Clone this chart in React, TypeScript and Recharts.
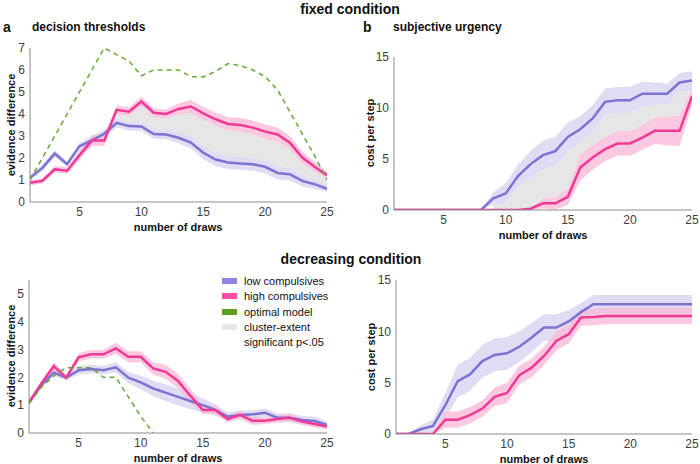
import React from "react";
import { ComposedChart, Area, Line, XAxis, YAxis } from "recharts";

/* ── data ─────────────────────────────────────────────────────────── */

const DRAWS = [1, 2, 3, 4, 5, 6, 7, 8, 9, 10, 11, 12, 13, 14, 15, 16, 17, 18, 19, 20, 21, 22, 23, 24, 25];
const X_TICKS = [5, 10, 15, 20, 25];

// fixed condition – decision thresholds
const FIX_THR_LOW = [1.1, 1.55, 2.2, 1.72, 2.54, 2.8, 3.1, 3.6, 3.45, 3.43, 3.09, 3.07, 2.92, 2.7, 2.24, 1.93, 1.8, 1.75, 1.72, 1.6, 1.32, 1.26, 0.96, 0.81, 0.6];
const FIX_THR_LOW_SE = [0.12, 0.15, 0.15, 0.12, 0.15, 0.18, 0.2, 0.2, 0.2, 0.2, 0.22, 0.22, 0.25, 0.28, 0.3, 0.3, 0.3, 0.3, 0.3, 0.3, 0.3, 0.28, 0.25, 0.22, 0.15];
const FIX_THR_HIGH = [0.87, 0.96, 1.49, 1.42, 2.13, 2.79, 2.79, 4.19, 4.1, 4.57, 4.06, 4.0, 4.23, 4.34, 4.03, 3.76, 3.55, 3.5, 3.38, 3.2, 3.07, 2.7, 2.02, 1.6, 1.22];
const FIX_THR_HIGH_SE = [0.12, 0.12, 0.15, 0.15, 0.2, 0.25, 0.25, 0.2, 0.2, 0.22, 0.2, 0.2, 0.25, 0.3, 0.3, 0.3, 0.3, 0.32, 0.32, 0.32, 0.32, 0.3, 0.28, 0.22, 0.18];
const FIX_THR_OPT = [1.0, 2.0, 3.0, 4.0, 5.0, 6.0, 7.0, 6.7, 6.4, 5.74, 6.0, 6.0, 6.0, 5.7, 5.68, 5.94, 6.29, 6.2, 6.0, 5.7, 5.1, 4.1, 3.1, 2.1, 1.0];
const FIX_THR_SIG: [number, number] = [8, 25];

// fixed condition – subjective urgency
const FIX_URG_LOW = [0, 0, 0, 0, 0, 0, 0, 0, 1.14, 1.63, 3.36, 4.5, 5.38, 5.77, 7.17, 7.92, 8.97, 10.6, 10.76, 10.76, 11.4, 11.4, 11.4, 12.5, 12.7];
const FIX_URG_LOW_SE = [0, 0, 0, 0, 0, 0, 0, 0, 0.6, 1.0, 1.1, 1.3, 1.4, 1.4, 1.4, 1.3, 1.3, 1.3, 1.3, 1.3, 1.2, 1.1, 1.0, 0.9, 0.9];
const FIX_URG_HIGH = [0, 0, 0, 0, 0, 0, 0, 0, 0, 0, 0, 0.13, 0.65, 0.65, 1.3, 4.17, 5.15, 5.97, 6.52, 6.52, 7.1, 7.76, 7.76, 7.76, 11.15];
const FIX_URG_HIGH_SE = [0, 0, 0, 0, 0, 0, 0, 0, 0, 0, 0, 0.1, 0.5, 0.6, 0.8, 1.3, 1.2, 1.2, 1.2, 1.2, 1.2, 1.3, 1.4, 1.5, 0.8];
const FIX_URG_SIG: [number, number] = [9, 25];

// decreasing condition – decision thresholds
const DEC_THR_LOW = [1.1, 1.72, 2.17, 1.99, 2.26, 2.3, 2.26, 2.36, 1.99, 1.82, 1.6, 1.45, 1.3, 1.15, 1.0, 0.83, 0.59, 0.65, 0.67, 0.73, 0.55, 0.55, 0.47, 0.43, 0.29];
const DEC_THR_LOW_SE = [0.05, 0.08, 0.12, 0.1, 0.15, 0.15, 0.15, 0.18, 0.2, 0.25, 0.28, 0.3, 0.3, 0.3, 0.25, 0.2, 0.15, 0.15, 0.15, 0.15, 0.15, 0.15, 0.15, 0.15, 0.12];
const DEC_THR_HIGH = [1.1, 1.78, 2.4, 1.99, 2.72, 2.83, 2.83, 3.04, 2.74, 2.74, 2.32, 2.2, 1.87, 1.34, 0.83, 0.83, 0.5, 0.65, 0.44, 0.44, 0.5, 0.55, 0.41, 0.32, 0.23];
const DEC_THR_HIGH_SE = [0.05, 0.08, 0.15, 0.1, 0.15, 0.15, 0.15, 0.2, 0.2, 0.2, 0.22, 0.25, 0.25, 0.25, 0.15, 0.15, 0.12, 0.15, 0.15, 0.12, 0.12, 0.15, 0.12, 0.12, 0.1];
const DEC_THR_OPT = [1.05, 1.65, 2.05, 2.35, 2.35, 2.35, 2.0, 2.0, 1.3, 0.6, 0, null, null, null, null, null, null, null, null, null, null, null, null, null, null];

// decreasing condition – subjective urgency
const DEC_URG_LOW = [0, 0, 0.46, 0.78, 2.8, 5.15, 5.8, 7.1, 7.7, 7.86, 8.5, 9.4, 10.37, 10.37, 10.96, 11.87, 12.65, 12.65, 12.65, 12.65, 12.65, 12.65, 12.65, 12.65, 12.65];
const DEC_URG_LOW_SE = [0, 0, 0.4, 0.6, 1.2, 1.6, 1.6, 1.6, 1.6, 1.6, 1.5, 1.4, 1.3, 1.3, 1.1, 0.9, 0.9, 0.9, 0.9, 0.9, 0.9, 0.9, 0.9, 0.9, 0.9];
const DEC_URG_HIGH = [0, 0, 0, 0, 1.4, 1.4, 1.83, 2.48, 3.62, 4.0, 5.74, 6.46, 7.6, 9.06, 9.72, 11.35, 11.4, 11.5, 11.5, 11.5, 11.5, 11.5, 11.5, 11.5, 11.5];
const DEC_URG_HIGH_SE = [0, 0, 0, 0, 0.8, 0.8, 0.8, 0.8, 0.9, 1.0, 0.9, 0.9, 0.9, 0.9, 0.9, 0.8, 0.8, 0.8, 0.8, 0.8, 0.8, 0.8, 0.8, 0.8, 0.8];

const LEGEND = [
  { label: "low compulsives", color: "#8c85e0" },
  { label: "high compulsives", color: "#ff4fa3" },
  { label: "optimal model", color: "#5c9e21" },
  { label: "cluster-extent", color: "#e8e8e8" },
];

/* ── styling ──────────────────────────────────────────────────────── */

const FONT = '"Liberation Sans", Arial, Helvetica, sans-serif';
const BLUE = "#7b73d1";
const BLUE_BAND = "#d9d6f2";
const PINK = "#ee3a94";
const PINK_BAND = "#f9bcd9";
const GREEN = "#66a832";
const GREY = "#e6e6e6";
const AXIS = "#8c8c8c";
const TICK = { fontSize: 12, fill: "#404040", fontFamily: FONT };

type Row = {
  x: number;
  low: number;
  high: number;
  lowBand: [number, number];
  highBand: [number, number];
  opt: number | null;
  sig: [number, number] | null;
};

function buildRows(
  low: number[],
  lowSe: number[],
  high: number[],
  highSe: number[],
  opt?: (number | null)[],
  sig?: [number, number]
): Row[] {
  return DRAWS.map((x, i) => {
    const lowBand: [number, number] = [Math.max(0, low[i] - lowSe[i]), low[i] + lowSe[i]];
    const highBand: [number, number] = [Math.max(0, high[i] - highSe[i]), high[i] + highSe[i]];
    let sigRange: [number, number] | null = null;
    if (sig && x >= sig[0] && x <= sig[1]) {
      // grey fill between the inner band edges
      const [bot, top] = low[i] < high[i] ? [lowBand[1], highBand[0]] : [highBand[1], lowBand[0]];
      sigRange = top > bot ? [bot, top] : [bot, bot];
    }
    return { x, low: low[i], high: high[i], lowBand, highBand, opt: opt ? opt[i] : null, sig: sigRange };
  });
}

/* ── panel ────────────────────────────────────────────────────────── */

function Panel({
  rows,
  left,
  top,
  width,
  height,
  margin,
  yWidth,
  xHeight,
  yDomain,
  yTicks,
}: {
  rows: Row[];
  left: number;
  top: number;
  width: number;
  height: number;
  margin: { top: number; right: number };
  yWidth: number;
  xHeight: number;
  yDomain: [number, number];
  yTicks: number[];
}) {
  return (
    <div style={{ position: "absolute", left, top }}>
      <ComposedChart width={width} height={height} data={rows} margin={{ top: margin.top, right: margin.right, left: 0, bottom: 0 }}>
        <XAxis
          dataKey="x"
          type="number"
          domain={[1, 25]}
          ticks={X_TICKS}
          tick={TICK}
          tickLine={false}
          tickSize={3}
          tickMargin={2}
          axisLine={{ stroke: AXIS }}
          height={xHeight}
          allowDataOverflow
        />
        <YAxis
          type="number"
          domain={yDomain}
          ticks={yTicks}
          tick={TICK}
          tickLine={false}
          tickSize={3}
          tickMargin={2}
          axisLine={{ stroke: AXIS }}
          width={yWidth}
          allowDataOverflow
        />
        <Area type="linear" dataKey="sig" stroke="none" fill={GREY} fillOpacity={1} isAnimationActive={false} dot={false} activeDot={false} connectNulls={false} />
        <Area type="linear" dataKey="lowBand" stroke="none" fill={BLUE_BAND} fillOpacity={0.85} isAnimationActive={false} dot={false} activeDot={false} />
        <Area type="linear" dataKey="highBand" stroke="none" fill={PINK_BAND} fillOpacity={0.8} isAnimationActive={false} dot={false} activeDot={false} />
        <Line type="linear" dataKey="low" stroke={BLUE} strokeWidth={2.5} dot={false} activeDot={false} isAnimationActive={false} />
        <Line type="linear" dataKey="high" stroke={PINK} strokeWidth={2.5} dot={false} activeDot={false} isAnimationActive={false} />
        <Line type="linear" dataKey="opt" stroke={GREEN} strokeWidth={1.5} strokeDasharray="5 4" dot={false} activeDot={false} isAnimationActive={false} connectNulls={false} />
      </ComposedChart>
    </div>
  );
}

/* ── text helpers ─────────────────────────────────────────────────── */

function Text({ x, y, size, bold, children, center, rotate }: any) {
  return (
    <div
      style={{
        position: "absolute",
        left: x,
        top: y,
        transform: `translate(${center ? "-50%" : "0"}, -50%)${rotate ? " rotate(-90deg)" : ""}`,
        fontSize: size,
        fontWeight: bold ? 700 : 400,
        whiteSpace: "nowrap",
        lineHeight: 1,
        color: "#111",
        fontFamily: FONT,
      }}
    >
      {children}
    </div>
  );
}

export default function App() {
  const fixThr = buildRows(FIX_THR_LOW, FIX_THR_LOW_SE, FIX_THR_HIGH, FIX_THR_HIGH_SE, FIX_THR_OPT, FIX_THR_SIG);
  const fixUrg = buildRows(FIX_URG_LOW, FIX_URG_LOW_SE, FIX_URG_HIGH, FIX_URG_HIGH_SE, undefined, FIX_URG_SIG);
  const decThr = buildRows(DEC_THR_LOW, DEC_THR_LOW_SE, DEC_THR_HIGH, DEC_THR_HIGH_SE, DEC_THR_OPT);
  const decUrg = buildRows(DEC_URG_LOW, DEC_URG_LOW_SE, DEC_URG_HIGH, DEC_URG_HIGH_SE);

  return (
    <div style={{ position: "absolute", left: 0, top: 0, width: 700, height: 464, background: "#fff", fontFamily: FONT, overflow: "hidden" }}>
      <Panel rows={fixThr} left={0} top={0} width={340} height={232} margin={{ top: 48, right: 13 }} yWidth={30} xHeight={30} yDomain={[0, 7]} yTicks={[0, 1, 2, 3, 4, 5, 6, 7]} />
      <Panel rows={fixUrg} left={350} top={0} width={350} height={232} margin={{ top: 57, right: 8 }} yWidth={44} xHeight={22} yDomain={[0, 15]} yTicks={[0, 5, 10, 15]} />
      <Panel rows={decThr} left={0} top={232} width={340} height={232} margin={{ top: 48, right: 13 }} yWidth={29} xHeight={31} yDomain={[0, 5.5]} yTicks={[0, 1, 2, 3, 4, 5]} />
      <Panel rows={decUrg} left={350} top={232} width={350} height={232} margin={{ top: 48, right: 8 }} yWidth={46} xHeight={30} yDomain={[0, 15]} yTicks={[0, 5, 10, 15]} />

      <Text x={350} y={9} size={14} bold center>fixed condition</Text>
      <Text x={3} y={27} size={14} bold>a</Text>
      <Text x={32} y={27} size={12} bold>decision thresholds</Text>
      <Text x={363} y={27} size={14} bold>b</Text>
      <Text x={393} y={27} size={12} bold>subjective urgency</Text>
      <Text x={351} y={259} size={14} bold center>decreasing condition</Text>

      <Text x={178} y={227} size={11} bold center>number of draws</Text>
      <Text x={543} y={235} size={11} bold center>number of draws</Text>
      <Text x={178} y={458} size={11} bold center>number of draws</Text>
      <Text x={544} y={459} size={11} bold center>number of draws</Text>

      <Text x={11} y={125} size={11} bold center rotate>evidence difference</Text>
      <Text x={370} y={133} size={11} bold center rotate>cost per step</Text>
      <Text x={11} y={356} size={11} bold center rotate>evidence difference</Text>
      <Text x={371} y={357} size={11} bold center rotate>cost per step</Text>

      {LEGEND.map((item, i) => (
        <React.Fragment key={item.label}>
          <div style={{ position: "absolute", left: 222, top: 277.5 + i * 15.5, width: 15, height: 6, background: item.color }} />
          <Text x={244} y={280.5 + i * 15.5} size={11}>{item.label}</Text>
        </React.Fragment>
      ))}
      <Text x={244} y={342} size={11}>significant p&lt;.05</Text>
    </div>
  );
}
